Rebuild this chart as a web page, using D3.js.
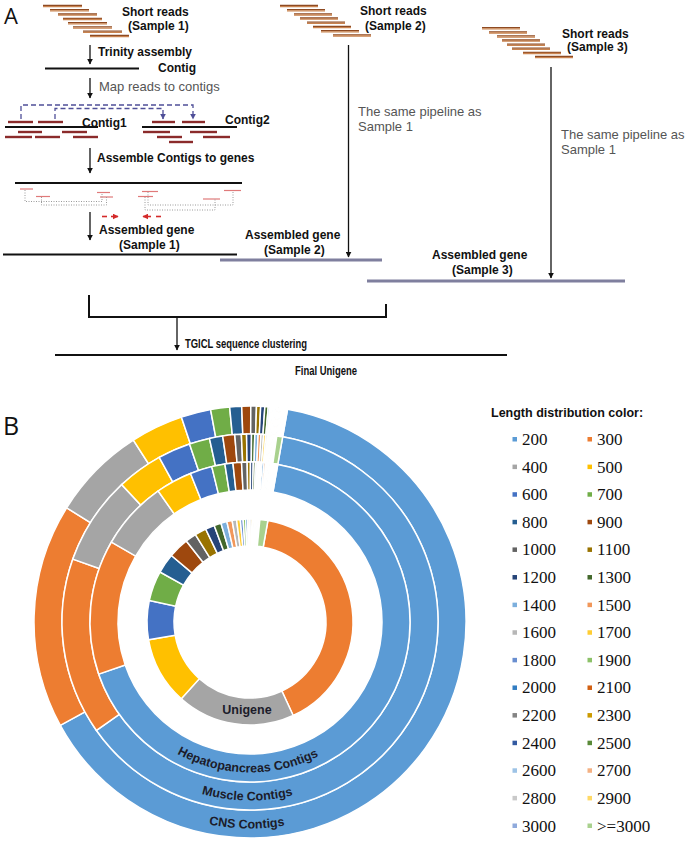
<!DOCTYPE html>
<html>
<head>
<meta charset="utf-8">
<script src="https://cdn.jsdelivr.net/npm/d3@7/dist/d3.min.js"></script>
<style>
  body { margin: 0; background: #fff; }
  svg { display: block; }
  .serif { font-family: "Liberation Serif", "Times New Roman", "DejaVu Serif", serif; }
</style>
</head>
<body>
<div id="chart"></div>
<script>
// ---- Panel B data: contig / unigene length distribution (% of sequences per length bin) ----
var lengthBins = ["200", "300", "400", "500", "600", "700", "800", "900", "1000", "1100",
                  "1200", "1300", "1400", "1500", "1600", "1700", "1800", "1900", "2000", "2100",
                  "2200", "2300", "2400", "2500", "2600", "2700", "2800", "2900", "3000", ">=3000"];

var binColors = ["#5b9bd5", "#ed7d31", "#a5a5a5", "#ffc000", "#4472c4", "#70ad47", "#255e91", "#9e480e", "#636363", "#997300",
                 "#264478", "#43682b", "#7cafdd", "#f1975a", "#b7b7b7", "#ffcd33", "#698ed0", "#8cc168", "#327dc2", "#d26012",
                 "#848484", "#cc9a00", "#335aa1", "#5a8a39", "#9dc3e6", "#f4b183", "#c9c9c9", "#ffd966", "#8faadc", "#a9d18e"];

var cnsContigs = [64.31, 16.81, 7.06, 3.94, 2.22, 1.42, 0.89, 0.67, 0.42, 0.31,
                  0.31, 0.25, 0.13, 0.10, 0.08, 0.06, 0.11, 0.10, 0.09, 0.08,
                  0.08, 0.07, 0.07, 0.07, 0.06, 0.06, 0.06, 0.06, 0.06, 0.09];

var muscleContigs = [62.44, 15.22, 7.61, 3.94, 2.81, 1.75, 1.14, 1.03, 0.56, 0.44,
                     0.42, 0.28, 0.28, 0.25, 0.22, 0.19, 0.14, 0.11, 0.10, 0.08,
                     0.08, 0.07, 0.06, 0.06, 0.06, 0.05, 0.04, 0.04, 0.04, 0.50];

var hepatoContigs = [66.94, 13.61, 6.94, 3.67, 2.22, 1.33, 0.81, 0.86, 0.56, 0.33,
                     0.28, 0.22, 0.17, 0.14, 0.13, 0.11, 0.08, 0.04, 0.19, 0.17,
                     0.15, 0.14, 0.14, 0.13, 0.11, 0.11, 0.10, 0.10, 0.08, 0.14];

var unigenes = [0, 40.33, 18.50, 10.61, 6.11, 4.72, 3.11, 3.22, 1.72, 1.81,
                1.42, 1.11, 0.94, 0.83, 0.69, 0.58, 0.44, 0.39, 0.31, 0.25,
                0.28, 0.25, 0.22, 0.19, 0.17, 0.15, 0.14, 0.13, 0.11, 1.25];

var ringNames = ["CNS Contigs", "Muscle Contigs", "Hepatopancreas Contigs", "Unigene"];

// ---- layout ----
var width = 685, height = 841;
var svg = d3.select("#chart").append("svg")
    .attr("width", width)
    .attr("height", height)
    .attr("font-family", "'Liberation Sans', Arial, sans-serif");

var defs = svg.append("defs");
function addArrowMarker(id, color) {
    defs.append("marker")
        .attr("id", id)
        .attr("viewBox", "0 0 10 10")
        .attr("refX", 9).attr("refY", 5)
        .attr("markerUnits", "userSpaceOnUse")
        .attr("markerWidth", 6).attr("markerHeight", 6)
        .attr("orient", "auto")
      .append("path")
        .attr("d", "M0,0 L10,5 L0,10 z")
        .attr("fill", color);
}
addArrowMarker("arrBlack", "#111");
addArrowMarker("arrBlue", "#4f4f98");
addArrowMarker("arrRed", "#d42a2a");

// ================= Panel A (schematic) =================
var gA = svg.append("g");

gA.append("text").attr("x", 4).attr("y", 24)
    .style("font-family", "'Open Sans', sans-serif")
    .attr("font-size", "22px").attr("fill", "#111").text("A");

function seg(x1, x2, y, color, w, dash) {
    var l = gA.append("line")
        .attr("x1", x1).attr("x2", x2).attr("y1", y).attr("y2", y)
        .attr("stroke", color).attr("stroke-width", w);
    if (dash) l.attr("stroke-dasharray", dash);
    return l;
}
function poly(points, color, w, dash, marker) {
    var p = gA.append("path")
        .attr("d", d3.line()(points))
        .attr("fill", "none").attr("stroke", color).attr("stroke-width", w);
    if (dash) p.attr("stroke-dasharray", dash);
    if (marker) p.attr("marker-end", "url(#" + marker + ")");
    return p;
}
function downArrow(x, y1, y2) {
    poly([[x, y1], [x, y2]], "#111", 1.3, null, "arrBlack");
}
function label(x, y, t, bold, opts) {
    opts = opts || {};
    var el = gA.append("text").attr("x", x).attr("y", y)
        .attr("font-size", (opts.size || 12) + "px")
        .attr("font-weight", bold ? "bold" : "normal")
        .attr("fill", opts.color || "#111")
        .text(t);
    if (opts.len) el.attr("textLength", opts.len).attr("lengthAdjust", "spacingAndGlyphs");
    return el;
}
function shortReads(x0, y0, offsets, len, step) {
    offsets.forEach(function(o, i) {
        var y = y0 + i * step;
        seg(x0 + o, x0 + o + len, y - 0.6, "#8e4a22", 1.3);
        seg(x0 + o, x0 + o + len, y + 0.6, "#c9834f", 1.3);
    });
}

// Sample 1
shortReads(43, 6, [0, 7, 15, 20, 25, 30, 40, 47], 39, 4.3);
label(122, 15.5, "Short reads", true);
label(128, 30, "(Sample 1)", true);
downArrow(90, 45, 64);
label(98, 55.5, "Trinity assembly", true);
seg(45, 139, 68.5, "#111", 2);
label(158, 72, "Contig", true);
downArrow(90, 78, 98);
label(99, 90.5, "Map reads to contigs", false, {size: 13, color: "#555"});

// dashed read mapping brackets
poly([[21, 119], [21, 105], [193, 105], [193, 119]], "#4f4f98", 1.3, "5,3", "arrBlue");
poly([[55, 119], [55, 108.5], [163, 108.5], [163, 119]], "#4f4f98", 1.3, "5,3", "arrBlue");

var contigRead = "#8b2b2b";
seg(5, 98, 127, "#111", 2);
[[8, 33, 122], [38, 63, 122], [18, 42, 132], [62, 87, 132], [5, 32, 137], [35, 60, 137], [73, 98, 137]]
    .forEach(function(r) { seg(r[0], r[1], r[2], contigRead, 2.4); });
label(82, 127, "Contig1", true);
seg(142, 237, 127, "#111", 2);
[[152, 175, 122], [182, 205, 122], [143, 170, 132], [190, 217, 132], [157, 182, 137], [203, 230, 137], [169, 193, 142]]
    .forEach(function(r) { seg(r[0], r[1], r[2], contigRead, 2.4); });
label(225, 124, "Contig2", true);

downArrow(90, 148, 173);
label(97, 162, "Assemble Contigs to genes", true);
seg(15, 242, 183, "#111", 2);
// contig pieces placed on the gene
[[20, 33, 189], [36, 50, 196.5], [97, 110, 192.5], [100, 113, 197], [142, 158, 191.5], [138, 153, 196.5], [203, 220, 199], [224, 241, 190.5]]
    .forEach(function(r) { seg(r[0], r[1], r[2], "#e07a7a", 1.2); });
poly([[25, 190], [25, 201.5], [102, 201.5], [102, 193]], "#9a9a9a", 1, "1,1.5");
poly([[41.5, 197], [41.5, 205], [106.5, 205], [106.5, 197]], "#9a9a9a", 1, "1,1.5");
poly([[148, 192], [148, 205], [233, 205], [233, 191]], "#9a9a9a", 1, "1,1.5");
poly([[145, 197], [145, 210], [215, 210], [215, 199]], "#9a9a9a", 1, "1,1.5");
seg(102, 107, 216.5, "#d42a2a", 1.6);
poly([[111, 216.5], [118, 216.5]], "#d42a2a", 1.6, null, "arrRed");
poly([[151, 216.5], [143, 216.5]], "#d42a2a", 1.6, null, "arrRed");
seg(156, 161, 216.5, "#d42a2a", 1.6);

downArrow(90, 212, 240);
label(99, 234, "Assembled gene", true);
label(119, 249, "(Sample 1)", true);
seg(3, 237, 254.5, "#111", 2);

// Sample 2
shortReads(280, 6, [0, 7, 14, 20, 27, 33, 41, 53], 38, 4.2);
label(360, 14.5, "Short reads", true);
label(365, 29.5, "(Sample 2)", true);
downArrow(348.5, 45, 257);
label(358, 116, "The same pipeline as", false, {size: 13, color: "#555"});
label(358, 131, "Sample 1", false, {size: 13, color: "#555"});
label(245, 239, "Assembled gene", true);
label(264, 254, "(Sample 2)", true);
seg(220, 382, 260, "#7f7f9e", 3);

// Sample 3
shortReads(482, 28.3, [0, 7, 15, 20, 25, 30, 41, 53], 38, 4.1);
label(562, 37.5, "Short reads", true);
label(567, 51, "(Sample 3)", true);
downArrow(551, 67, 278);
label(561, 138.5, "The same pipeline as", false, {size: 13, color: "#555"});
label(561, 153.5, "Sample 1", false, {size: 13, color: "#555"});
label(432, 259, "Assembled gene", true);
label(452, 274, "(Sample 3)", true);
seg(367, 625, 281, "#7f7f9e", 3);

// clustering
poly([[89, 295], [89, 317], [386, 317], [386, 304]], "#111", 2);
downArrow(177, 317, 350);
label(185, 347.5, "TGICL sequence clustering", true, {size: 13.5, len: 122});
seg(55, 507, 355, "#111", 2);
label(295, 374.5, "Final Unigene", true, {size: 13.5, len: 62});

// ================= Panel B (nested doughnuts) =================
svg.append("text").attr("x", 3).attr("y", 435)
    .style("font-family", "'Open Sans', sans-serif")
    .attr("font-size", "25px").attr("fill", "#111").text("B");

var cx = 250, cy = 622;
var deg = Math.PI / 180;
var rings = [
    {name: ringNames[0], values: cnsContigs,    r0: 188, r1: 216, labelR: 206.5},
    {name: ringNames[1], values: muscleContigs, r0: 160, r1: 188, labelR: 178.5},
    {name: ringNames[2], values: hepatoContigs, r0: 132, r1: 160, labelR: 150.5},
    {name: ringNames[3], values: unigenes,      r0: 76,  r1: 103}
];

var pie = d3.pie().sort(null).value(function(d) { return d.v; })
    .startAngle(10 * deg).endAngle(370 * deg);

var gB = svg.append("g").attr("transform", "translate(" + cx + "," + cy + ")");

rings.forEach(function(ring, ri) {
    var arc = d3.arc().innerRadius(ring.r0).outerRadius(ring.r1);
    var rows = ring.values.map(function(v, i) { return {v: v, bin: lengthBins[i], color: binColors[i]}; });
    gB.append("g").selectAll("path")
        .data(pie(rows).filter(function(d) { return d.data.v > 0; }))
        .join("path")
        .attr("d", arc)
        .attr("fill", function(d) { return d.data.color; })
        .attr("stroke", "#fff")
        .attr("stroke-width", 1.5);

    if (ring.labelR) {
        var r = ring.labelR;
        var id = "ringPath" + ri;
        defs.append("path").attr("id", id)
            .attr("d", "M" + (cx - r) + "," + cy + " A" + r + "," + r + " 0 0 0 " + (cx + r) + "," + cy);
        svg.append("text")
            .attr("font-size", "12.5px").attr("font-weight", "bold").attr("fill", "#1c1c2a")
          .append("textPath")
            .attr("href", "#" + id)
            .attr("startOffset", "49.5%")
            .attr("text-anchor", "middle")
            .text(ring.name);
    } else {
        gB.append("text")
            .attr("x", -3).attr("y", 92)
            .attr("text-anchor", "middle")
            .attr("font-size", "12.5px").attr("font-weight", "bold").attr("fill", "#1c1c2a")
            .text(ring.name);
    }
});

// legend
var gL = svg.append("g");
gL.append("text").attr("x", 491).attr("y", 417)
    .attr("font-size", "12.5px").attr("font-weight", "bold").attr("fill", "#111")
    .text("Length distribution color:");

var legendCol = d3.scalePoint().domain([0, 1]).range([512.5, 587.5]);
var legendRow = d3.scaleLinear().domain([0, 14]).range([445, 831.5]);

gL.selectAll("g.item")
    .data(lengthBins.map(function(b, i) { return {bin: b, color: binColors[i], i: i}; }))
    .join("g")
    .attr("class", "item")
    .attr("transform", function(d) {
        return "translate(" + legendCol(d.i % 2) + "," + legendRow(Math.floor(d.i / 2)) + ")";
    })
    .each(function(d) {
        var g = d3.select(this);
        g.append("rect").attr("x", 0).attr("y", -8).attr("width", 4.5).attr("height", 4.5)
            .attr("fill", d.color);
        g.append("text").attr("class", "serif").attr("x", 9.5).attr("y", 0)
            .style("font-family", "'Liberation Serif', 'Times New Roman', 'DejaVu Serif', serif")
            .attr("font-size", "17px").attr("fill", "#111")
            .text(d.bin);
    });
</script>
</body>
</html>
